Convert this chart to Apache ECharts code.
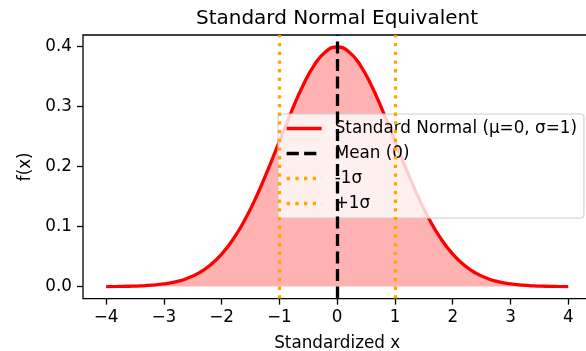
<!DOCTYPE html>
<html>
<head>
<meta charset="utf-8">
<script src="https://cdn.jsdelivr.net/npm/echarts@6/dist/echarts.min.js"></script>
<style>
  html, body { margin: 0; padding: 0; background: #fff; }
  #chart { width: 586px; height: 351px; }
</style>
</head>
<body>
<div id="chart"></div>
<script>
// Standard normal density sampled at standardized x values
const zValues = [-4.0, -3.8, -3.6, -3.4, -3.2, -3.0, -2.8, -2.6, -2.4, -2.2, -2.0,
                 -1.8, -1.6, -1.4, -1.2, -1.0, -0.8, -0.6, -0.4, -0.2, 0.0,
                 0.2, 0.4, 0.6, 0.8, 1.0, 1.2, 1.4, 1.6, 1.8, 2.0,
                 2.2, 2.4, 2.6, 2.8, 3.0, 3.2, 3.4, 3.6, 3.8, 4.0];
const density = [0.0001, 0.0003, 0.0006, 0.0012, 0.0024, 0.0044, 0.0079, 0.0136, 0.0224, 0.0355, 0.0540,
                 0.0790, 0.1109, 0.1497, 0.1942, 0.2420, 0.2897, 0.3332, 0.3683, 0.3910, 0.3989,
                 0.3910, 0.3683, 0.3332, 0.2897, 0.2420, 0.1942, 0.1497, 0.1109, 0.0790, 0.0540,
                 0.0355, 0.0224, 0.0136, 0.0079, 0.0044, 0.0024, 0.0012, 0.0006, 0.0003, 0.0001];

// Reference lines
const meanX = [0];
const minusSigmaX = [-1];
const plusSigmaX = [1];

// Axis ticks and limits
const xTicks = [-4, -3, -2, -1, 0, 1, 2, 3, 4];
const yTicks = [0.0, 0.1, 0.2, 0.3, 0.4];
const xLimits = [-4.4, 4.4];
const yLimits = [-0.01995, 0.41884];

const seriesNames = ['Standard Normal (\u03bc=0, \u03c3=1)', 'Mean (0)', '-1\u03c3', '+1\u03c3'];

const FONT = 'DejaVu Sans';
const TEXT_SIZE = 16.8;

const chart = echarts.init(document.getElementById('chart'), null, { renderer: 'canvas' });

function vLineSeries(name, xs, color, dash) {
  return {
    name: name,
    type: 'line',
    data: [],
    symbol: 'none',
    lineStyle: { color: color, width: 3.3, type: dash },
    itemStyle: { color: color },
    markLine: {
      silent: true,
      symbol: ['none', 'none'],
      label: { show: false },
      animation: false,
      lineStyle: { color: color, width: 3.3, type: dash },
      emphasis: { disabled: true },
      data: xs.map(v => ({ xAxis: v }))
    }
  };
}

const option = {
  backgroundColor: '#ffffff',
  animation: false,
  title: {
    text: 'Standard Normal Equivalent',
    left: 337,
    textAlign: 'center',
    top: 9,
    padding: 0,
    textStyle: { fontFamily: FONT, fontSize: 20, fontWeight: 'normal', color: '#000' }
  },
  grid: {
    left: 83, top: 35, width: 508.4, height: 263.6,
    outerBoundsMode: 'none',
    containLabel: false,
    show: true, borderColor: '#000', borderWidth: 1.3, backgroundColor: 'transparent'
  },
  legend: {
    orient: 'vertical',
    left: 278,
    top: 114,
    padding: [6, 7, 6, 7],
    itemWidth: 35,
    itemHeight: 14,
    itemGap: 8,
    backgroundColor: 'rgba(255,255,255,0.8)',
    borderColor: '#cccccc',
    borderWidth: 1,
    borderRadius: 3,
    selectedMode: false,
    itemStyle: { opacity: 0 },
    lineStyle: { width: 3.3 },
    formatter: name => '{gap| }' + name,
    textStyle: {
      fontFamily: FONT, fontSize: TEXT_SIZE, color: '#000',
      rich: { gap: { width: 8, fontSize: TEXT_SIZE } }
    },
    data: seriesNames
  },
  xAxis: {
    type: 'value',
    min: xLimits[0], max: xLimits[1],
    name: 'Standardized x',
    nameLocation: 'middle',
    nameGap: 37,
    nameTextStyle: { fontFamily: FONT, fontSize: TEXT_SIZE, color: '#000' },
    axisLine: { show: false, onZero: false },
    splitLine: { show: false },
    axisTick: { show: true, inside: false, length: 6, customValues: xTicks,
                lineStyle: { color: '#000', width: 1.3 } },
    axisLabel: { show: true, margin: 11, customValues: xTicks,
                 fontFamily: FONT, fontSize: TEXT_SIZE, color: '#000',
                 formatter: v => String(Math.round(v)).replace('-', '\u2212') }
  },
  yAxis: {
    type: 'value',
    min: yLimits[0], max: yLimits[1],
    name: 'f(x)',
    nameLocation: 'middle',
    nameGap: 44,
    nameRotate: 90,
    nameTextStyle: { fontFamily: FONT, fontSize: TEXT_SIZE, color: '#000' },
    axisLine: { show: false, onZero: false },
    splitLine: { show: false },
    axisTick: { show: true, inside: false, length: 6, customValues: yTicks,
                lineStyle: { color: '#000', width: 1.3 } },
    axisLabel: { show: true, margin: 11, customValues: yTicks,
                 fontFamily: FONT, fontSize: TEXT_SIZE, color: '#000',
                 formatter: v => Number(v).toFixed(1) }
  },
  series: [
    {
      name: seriesNames[0],
      type: 'line',
      data: zValues.map((z, i) => [z, density[i]]),
      smooth: true,
      symbol: 'none',
      lineStyle: { color: '#ff0000', width: 3.3 },
      itemStyle: { color: '#ff0000' },
      areaStyle: { color: 'rgba(255,0,0,0.3)', opacity: 1 },
      z: 2
    },
    vLineSeries(seriesNames[1], meanX, '#000000', [12.2, 5.3]),
    vLineSeries(seriesNames[2], minusSigmaX, '#FFA500', [3.3, 5.4]),
    vLineSeries(seriesNames[3], plusSigmaX, '#FFA500', [3.3, 5.4])
  ]
};

chart.setOption(option);
</script>
</body>
</html>
